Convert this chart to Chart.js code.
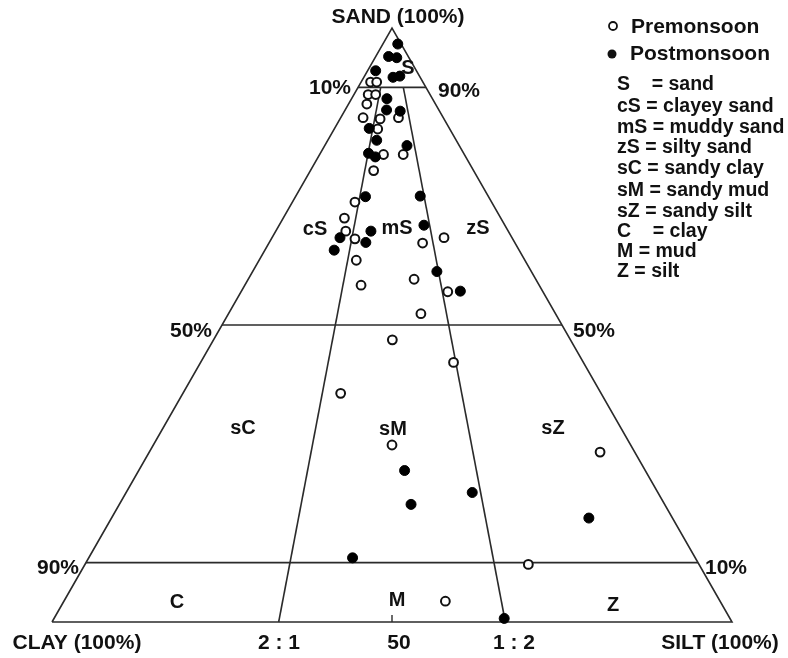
<!DOCTYPE html>
<html>
<head>
<meta charset="utf-8">
<script src="https://cdn.jsdelivr.net/npm/chart.js@4/dist/chart.umd.min.js"></script>
<style>
  html, body { margin: 0; padding: 0; background: #fff; }
  canvas { display: block; }
</style>
</head>
<body>
<canvas id="tern" width="788" height="658"></canvas>
<script>
// sediment composition in % (sand, silt, clay)
const preSand = [90.9, 90.9, 88.8, 88.8, 87.2, 84.9, 84.9, 84.7, 83.0, 78.7, 78.7, 76.0, 70.7, 68.0, 65.8, 64.5, 60.9, 56.7, 64.7, 63.8, 57.7, 55.6, 51.9, 47.5, 43.7, 38.5, 29.8, 9.7, 3.5, 28.6];
const preSilt = [1.4, 2.3, 2.1, 3.2, 2.7, 8.5, 3.3, 5.9, 6.4, 12.3, 9.4, 9.3, 9.2, 9.0, 10.3, 12.3, 14.3, 17.1, 25.3, 22.6, 24.4, 30.4, 28.3, 26.3, 37.2, 23.2, 35.1, 65.2, 56.1, 66.3];
const preClay = [7.7, 6.8, 9.1, 8.0, 10.1, 6.6, 11.8, 9.4, 10.6, 9.0, 11.9, 14.7, 20.1, 23.0, 23.9, 23.2, 24.8, 26.2, 10.0, 13.6, 17.9, 14.0, 19.8, 26.2, 19.1, 38.3, 35.1, 25.1, 40.4, 5.1];

const postSand = [97.3, 95.2, 95.0, 92.8, 91.7, 91.9, 88.1, 86.2, 86.0, 83.1, 81.1, 80.2, 78.9, 78.3, 71.6, 64.7, 65.8, 63.9, 62.6, 71.7, 66.8, 59.0, 55.7, 25.5, 21.8, 19.8, 10.8, 0.6, 17.5];
const postSilt = [2.2, 1.9, 3.2, 1.2, 4.3, 5.2, 5.2, 6.1, 8.2, 5.1, 7.2, 12.1, 7.1, 8.4, 10.3, 10.0, 14.0, 14.2, 10.2, 18.3, 21.3, 27.1, 32.2, 39.1, 50.9, 42.9, 38.8, 66.2, 70.2];
const postClay = [0.5, 2.9, 1.8, 6.0, 4.0, 2.9, 6.7, 7.7, 5.8, 11.8, 11.7, 7.7, 14.0, 13.3, 18.1, 25.3, 20.2, 21.9, 27.2, 10.0, 11.9, 13.9, 12.1, 35.4, 27.3, 37.3, 50.4, 33.2, 12.3];

// Folk class boundaries, each as [sand, silt, clay] end points
const frame = [[0, 0, 100], [100, 0, 0], [0, 100, 0], [0, 0, 100]];
const sand90 = [[90, 0, 10], [90, 10, 0]];
const sand50 = [[50, 0, 50], [50, 50, 0]];
const sand10 = [[10, 0, 90], [10, 90, 0]];
const ratio21 = [[90, 10 / 3, 20 / 3], [0, 100 / 3, 200 / 3]];
const ratio12 = [[90, 20 / 3, 10 / 3], [0, 200 / 3, 100 / 3]];

const classLabels = ['S', 'cS', 'mS', 'zS', 'sC', 'sM', 'sZ', 'C', 'M', 'Z'];
const classNames = ['sand', 'clayey sand', 'muddy sand', 'silty sand', 'sandy clay', 'sandy mud', 'sandy silt', 'clay', 'mud', 'silt'];

// sand at the top, clay bottom left, silt bottom right
function toXY(sand, silt, clay) {
  const t = sand + silt + clay;
  const s = sand / t * 100, z = silt / t * 100;
  return { x: z + s / 2, y: s };
}

const lineSet = pts => ({
  type: 'scatter', showLine: true, data: pts.map(p => toXY(p[0], p[1], p[2])),
  borderColor: '#2b2b2b', borderWidth: 1.6, pointRadius: 0, fill: false, order: 5, clip: false
});

const FONT = 'bold 21px "Liberation Sans", Arial, sans-serif';

const labelPlugin = {
  id: 'labels',
  beforeDraw(chart) {
    const c = chart.ctx;
    c.save(); c.fillStyle = '#fff'; c.fillRect(0, 0, chart.width, chart.height); c.restore();
  },
  afterDraw(chart) {
    const c = chart.ctx;
    const xs = chart.scales.x, ys = chart.scales.y;
    c.save();
    c.fillStyle = '#111';
    c.font = FONT;
    c.textBaseline = 'middle';
    c.textAlign = 'center';
    // corners and base
    c.fillText('SAND (100%)', 398, 17);
    c.fillText('CLAY (100%)', 77, 643);
    c.fillText('2 : 1', 279, 643);
    c.fillText('50', 399, 643);
    c.fillText('1 : 2', 514, 643);
    c.fillText('SILT (100%)', 720, 643);
    // sand percent ticks
    c.fillText('10%', 330, 88);
    c.fillText('90%', 459, 91);
    c.fillText('50%', 191, 331);
    c.fillText('50%', 594, 331);
    c.fillText('90%', 58, 568);
    c.fillText('10%', 726, 568);
    // class names
    c.font = 'bold 20px "Liberation Sans", Arial, sans-serif';
    const pos = [[408, 68], [315, 229], [397, 228], [478, 228], [243, 428], [393, 429], [553, 428], [177, 602], [397, 600], [613, 605]];
    classLabels.forEach((l, i) => c.fillText(l, pos[i][0], pos[i][1]));
    // small tick under 50
    const bx = xs.getPixelForValue(50), by = ys.getPixelForValue(0);
    c.strokeStyle = '#2b2b2b'; c.lineWidth = 1.4;
    c.beginPath(); c.moveTo(bx, by); c.lineTo(bx, by - 7); c.stroke();

    // legend
    c.textAlign = 'left';
    c.lineWidth = 1.8;
    c.beginPath(); c.arc(613, 26, 4, 0, Math.PI * 2); c.fillStyle = '#fff'; c.fill(); c.strokeStyle = '#111'; c.stroke();
    c.fillStyle = '#111';
    c.beginPath(); c.arc(612, 54, 4.5, 0, Math.PI * 2); c.fill();
    c.font = 'bold 21px "Liberation Sans", Arial, sans-serif';
    c.fillText('Premonsoon', 631, 27);
    c.fillText('Postmonsoon', 630, 54);
    c.font = 'bold 19.5px "Liberation Sans", Arial, sans-serif';
    const rows = [85, 107, 128, 148, 169, 191, 212, 232, 252, 272];
    classLabels.forEach((l, i) => {
      const pad = (l === 'S' || l === 'C') ? '   ' : '';
      c.fillText(l + pad + ' = ' + classNames[i], 617, rows[i]);
    });
    c.restore();
  }
};

new Chart(document.getElementById('tern'), {
  type: 'scatter',
  data: {
    datasets: [
      {
        label: 'Premonsoon',
        data: preSand.map((s, i) => toXY(s, preSilt[i], preClay[i])),
        pointRadius: 4.4, pointBorderWidth: 2, pointBackgroundColor: '#fff', pointBorderColor: '#111',
        order: 1, clip: false
      },
      {
        label: 'Postmonsoon',
        data: postSand.map((s, i) => toXY(s, postSilt[i], postClay[i])),
        pointRadius: 5, pointBorderWidth: 1, pointBackgroundColor: '#000', pointBorderColor: '#000',
        order: 0, clip: false
      },
      lineSet(frame), lineSet(sand90), lineSet(sand50), lineSet(sand10), lineSet(ratio21), lineSet(ratio12)
    ]
  },
  options: {
    responsive: false,
    animation: false,
    layout: { padding: { left: 52, right: 56, top: 28, bottom: 36 } },
    scales: {
      x: { type: 'linear', min: 0, max: 100, display: false },
      y: { type: 'linear', min: 0, max: 100, display: false }
    },
    plugins: { legend: { display: false }, tooltip: { enabled: false } },
    events: []
  },
  plugins: [labelPlugin]
});
</script>
</body>
</html>
